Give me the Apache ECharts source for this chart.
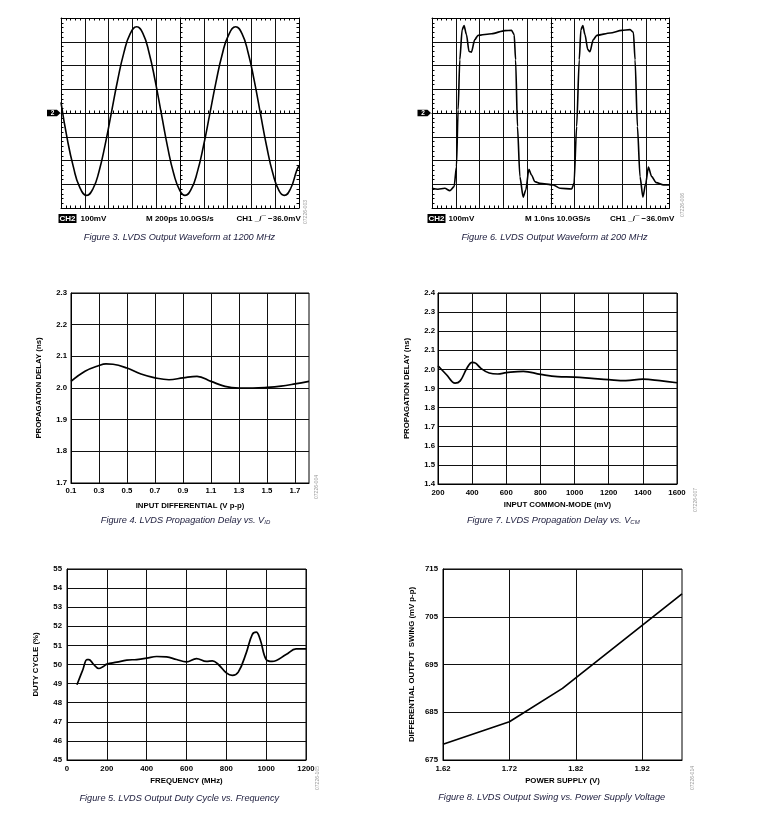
<!DOCTYPE html>
<html><head><meta charset="utf-8">
<script src="https://cdn.jsdelivr.net/npm/echarts@6/dist/echarts.min.js"></script>
<style>html,body{margin:0;padding:0;background:#fff}#c{width:762px;height:816px}</style>
</head><body><div id="c"></div>
<script>
// ---------- Figure 3: LVDS output waveform at 1200 MHz (time ps, mV) ----------
const fig3Time = [0,52,104,156,216,268,320,372,424,476,528,580,636,688,740,792,844,896,948,1000,1042,1094,1146,1198,1250,1302,1354,1406,1468,1520,1572,1624,1676,1728,1780,1832,1876,1928,1980,2000];
const fig3Volt = [45,-108,-227,-311,-347,-320,-245,-131,3,138,253,332,363,335,254,134,-5,-144,-257,-328,-347,-321,-248,-137,-5,129,245,326,363,335,255,136,-3,-140,-254,-327,-347,-320,-243,-222];

// ---------- Figure 6: LVDS output waveform at 200 MHz (time ns, mV) ----------
const fig6Time = [0,0.25,0.54,0.75,0.93,1.03,1.10,1.17,1.27,1.35,1.45,1.56,1.66,1.80,1.94,2.51,3.07,3.35,3.46,3.52,3.60,3.70,3.84,3.95,4.08,4.19,4.33,4.54,5.11,5.39,5.88,5.98,6.09,6.20,6.27,6.35,6.44,6.56,6.65,6.79,6.94,7.50,7.99,8.34,8.48,8.55,8.65,8.76,8.88,9.00,9.11,9.25,9.44,9.75,10];
const fig6Volt = [-317,-321,-317,-327,-310,-226,14,224,351,368,330,259,256,309,327,334,347,348,330,224,-57,-268,-354,-324,-237,-261,-289,-296,-303,-317,-320,-296,-57,224,351,368,330,267,258,309,327,337,348,351,340,224,-57,-268,-354,-296,-228,-268,-293,-303,-303];

// ---------- Figure 4: propagation delay vs input differential ----------
const fig4X = [0.1,0.2,0.3,0.35,0.4,0.5,0.6,0.7,0.8,0.9,1.0,1.1,1.2,1.3,1.4,1.5,1.6,1.7,1.8];
const fig4Y = [2.021,2.053,2.071,2.076,2.075,2.063,2.044,2.032,2.026,2.032,2.037,2.021,2.005,2.0,2.0,2.002,2.006,2.013,2.021];
const fig4XTicks = [0.1,0.3,0.5,0.7,0.9,1.1,1.3,1.5,1.7];
const fig4YTicks = [1.7,1.8,1.9,2.0,2.1,2.2,2.3];

// ---------- Figure 7: propagation delay vs input common-mode ----------
const fig7X = [200,250,300,330,370,400,420,450,500,550,600,700,800,900,1000,1100,1200,1300,1400,1500,1600];
const fig7Y = [2.019,1.972,1.928,1.94,2.007,2.037,2.033,2.007,1.981,1.976,1.983,1.99,1.974,1.962,1.96,1.953,1.946,1.941,1.949,1.941,1.93];
const fig7XTicks = [200,400,600,800,1000,1200,1400,1600];
const fig7YTicks = [1.4,1.5,1.6,1.7,1.8,1.9,2.0,2.1,2.2,2.3,2.4];

// ---------- Figure 5: duty cycle vs frequency ----------
const fig5X = [50,80,100,110,130,160,180,200,250,300,350,400,450,500,550,600,650,700,730,760,800,830,860,900,930,950,970,1000,1030,1100,1150,1200];
const fig5Y = [48.94,49.74,50.26,50.26,50.05,49.79,49.88,50.02,50.12,50.23,50.26,50.33,50.42,50.40,50.26,50.14,50.31,50.16,50.19,50.0,49.56,49.43,49.60,50.61,51.57,51.69,51.31,50.26,50.16,50.52,50.82,50.82];
const fig5XTicks = [0,200,400,600,800,1000,1200];
const fig5YTicks = [45,46,47,48,49,50,51,52,53,54,55];

// ---------- Figure 8: output swing vs power supply ----------
const fig8X = [1.62,1.72,1.80,1.90,1.98];
const fig8Y = [678.3,683.0,690.0,701.0,709.8];
const fig8XTicks = [1.62,1.72,1.82,1.92];
const fig8YTicks = [675,685,695,705,715];

const F = 'Liberation Sans';
const BLACK = '#000';
const FS = 7.8;
const zip = (a, b) => a.map((v, i) => [v, b[i]]);
const lbl = {fontFamily: F, fontWeight: 'bold', fontSize: FS, color: BLACK};
const gridLine = {show: true, lineStyle: {color: '#111', width: 1}};

const grids = [], xAxes = [], yAxes = [], series = [], graphics = [];

// ---- scope panel builder ----
function scope(rect, xMax, xInt, time, volt, smooth, mono) {
  const gA = grids.length;
  grids.push(Object.assign({}, rect, {show: false}));
  grids.push(Object.assign({}, rect, {show: false}));
  grids.push(Object.assign({}, rect, {show: false}));
  const axLine = {show: true, onZero: false, lineStyle: {color: BLACK, width: 1}};
  const minor = {show: true, splitNumber: 5, length: 2.5, lineStyle: {color: BLACK, width: 1}};
  xAxes.push({gridIndex: gA, type: 'value', min: 0, max: xMax, interval: xInt, position: 'bottom',
    axisLine: axLine, axisTick: {show: false, inside: true}, minorTick: minor,
    axisLabel: {show: false}, splitLine: gridLine});
  yAxes.push({gridIndex: gA, type: 'value', min: -400, max: 400, interval: 100, position: 'left',
    axisLine: axLine, axisTick: {show: false, inside: true}, minorTick: minor,
    axisLabel: {show: false}, splitLine: gridLine});
  xAxes.push({gridIndex: gA + 1, type: 'value', min: 0, max: xMax, interval: xInt, position: 'top',
    axisLine: axLine, axisTick: {show: false, inside: true}, minorTick: minor,
    axisLabel: {show: false}, splitLine: {show: false}});
  yAxes.push({gridIndex: gA + 1, type: 'value', min: -400, max: 400, interval: 100, position: 'right',
    axisLine: axLine, axisTick: {show: false, inside: true}, minorTick: minor,
    axisLabel: {show: false}, splitLine: {show: false}});
  xAxes.push({gridIndex: gA + 2, type: 'value', min: -xMax / 2, max: xMax / 2, interval: xInt,
    axisLine: {show: true, onZero: true, lineStyle: {color: BLACK, width: 1}}, axisTick: {show: false, inside: true},
    minorTick: minor, axisLabel: {show: false}, splitLine: {show: false}});
  yAxes.push({gridIndex: gA + 2, type: 'value', min: -400, max: 400, interval: 100,
    axisLine: {show: true, onZero: true, lineStyle: {color: BLACK, width: 1}}, axisTick: {show: false, inside: true},
    minorTick: minor, axisLabel: {show: false}, splitLine: {show: false}});
  const s = {type: 'line', xAxisIndex: xAxes.length - 3, yAxisIndex: yAxes.length - 3,
    data: zip(time, volt), showSymbol: false, smooth: smooth,
    lineStyle: {color: BLACK, width: 1.6}, animation: false, z: 5};
  if (mono) s.smoothMonotone = 'x';
  series.push(s);
}

// ---- line chart builder ----
function chart(rect, xr, yr, xTicks, yTicks, xFmt, yFmt, xName, yName, gaps, xs, ys, smooth) {
  const g = grids.length;
  grids.push(Object.assign({}, rect, {show: true, borderColor: BLACK, borderWidth: 1}));
  xAxes.push({gridIndex: g, type: 'value', min: xr[0], max: xr[1], position: 'bottom',
    axisLine: {show: true, onZero: false, lineStyle: {color: BLACK, width: 1}},
    axisTick: {show: false, customValues: xTicks},
    axisLabel: Object.assign({}, lbl, {customValues: xTicks, margin: gaps[0], formatter: xFmt}),
    splitLine: gridLine,
    name: xName, nameLocation: 'middle', nameGap: gaps[1],
    nameTextStyle: {fontFamily: F, fontWeight: 'bold', fontSize: FS, color: BLACK}});
  yAxes.push({gridIndex: g, type: 'value', min: yr[0], max: yr[1], position: 'left',
    axisLine: {show: true, onZero: false, lineStyle: {color: BLACK, width: 1}},
    axisTick: {show: false, customValues: yTicks},
    axisLabel: Object.assign({}, lbl, {customValues: yTicks, margin: gaps[2], formatter: yFmt}),
    splitLine: gridLine,
    name: yName, nameLocation: 'middle', nameGap: gaps[3],
    nameTextStyle: {fontFamily: F, fontWeight: 'bold', fontSize: FS, color: BLACK}});
  series.push({type: 'line', xAxisIndex: xAxes.length - 1, yAxisIndex: yAxes.length - 1,
    data: zip(xs, ys), showSymbol: false, smooth: smooth,
    lineStyle: {color: BLACK, width: 1.7}, animation: false, z: 5});
}

scope({left: 61, top: 18, width: 238, height: 190}, 2000, 200, fig3Time, fig3Volt, 0.5, false);
scope({left: 432, top: 18, width: 237.5, height: 190}, 10, 1, fig6Time, fig6Volt, 0.25, true);

const f1 = v => v.toFixed(1), f2 = v => v.toFixed(2), f0 = v => String(v);
chart({left: 71, top: 293, width: 238, height: 190}, [0.1, 1.8], [1.7, 2.3], fig4XTicks, fig4YTicks, f1, f1,
  'INPUT DIFFERENTIAL (V p-p)', 'PROPAGATION DELAY (ns)', [4, 18.5, 4, 28], fig4X, fig4Y, 0.4);
chart({left: 438, top: 293, width: 239, height: 191}, [200, 1600], [1.4, 2.4], fig7XTicks, fig7YTicks, f0, f1,
  'INPUT COMMON-MODE (mV)', 'PROPAGATION DELAY (ns)', [5, 17, 3, 27], fig7X, fig7Y, 0.4);
chart({left: 67, top: 569, width: 239, height: 191}, [0, 1200], [45, 55], fig5XTicks, fig5YTicks, f0, f0,
  'FREQUENCY (MHz)', 'DUTY CYCLE (%)', [5, 17, 5, 27.5], fig5X, fig5Y, 0.4);
chart({left: 443, top: 569, width: 239, height: 191}, [1.62, 1.98], [675, 715], fig8XTicks, fig8YTicks, f2, f0,
  'POWER SUPPLY (V)', 'DIFFERENTIAL OUTPUT  SWING (mV p-p)', [5, 16.5, 5, 27], fig8X, fig8Y, false);

// ---- decorations ----
function marker(x, y) {
  graphics.push({type: 'polygon', shape: {points: [[x, y - 3.3], [x + 10, y - 3.3], [x + 13.5, y], [x + 10, y + 3.3], [x, y + 3.3]]},
    style: {fill: BLACK}});
  graphics.push({type: 'text', x: x + 5.5, y: y, style: {text: '2', fill: '#fff', font: 'bold 6.5px ' + F,
    textAlign: 'center', textVerticalAlign: 'middle'}});
}
marker(47, 113);
marker(417.5, 113);

function scopeText(x, y, text) {
  graphics.push({type: 'text', x: x, y: y, style: {text: text, fill: BLACK, font: 'bold 8px ' + F,
    textAlign: 'left', textVerticalAlign: 'middle',
    rich: {b: {backgroundColor: BLACK, fill: '#fff', fontWeight: 'bold', fontSize: 8, fontFamily: F, padding: [1, 1, 0, 1]}}}});
}
scopeText(58.5, 218.5, '{b|CH2}');
scopeText(80.5, 218.5, '100mV');
scopeText(146, 218.5, 'M 200ps 10.0GS/s');
scopeText(236.5, 218.5, 'CH1 _/\u00AF \u221236.0mV');
scopeText(427.5, 218.5, '{b|CH2}');
scopeText(448.5, 218.5, '100mV');
scopeText(525, 218.5, 'M 1.0ns 10.0GS/s');
scopeText(610, 218.5, 'CH1 _/\u00AF \u221236.0mV');

const CAP = '#1c1c3c';
function caption(x, y, text) {
  graphics.push({type: 'text', x: x, y: y, style: {text: text, fill: CAP,
    font: 'italic 9.2px ' + F, textAlign: 'center', textVerticalAlign: 'middle',
    rich: {n: {fontStyle: 'italic', fontSize: 9.2, fontFamily: F, fill: CAP, lineHeight: 12},
           s: {fontStyle: 'italic', fontSize: 6, fontFamily: F, fill: CAP, lineHeight: 12, padding: [4, 0, 0, 0]}}}});
}
caption(179.5, 237.5, '{n|Figure 3. LVDS Output Waveform at 1200 MHz}');
caption(554.5, 237.5, '{n|Figure 6. LVDS Output Waveform at 200 MHz}');
caption(185.5, 520.7, '{n|Figure 4. LVDS Propagation Delay vs. V}{s|ID}');
caption(553.3, 520.7, '{n|Figure 7. LVDS Propagation Delay vs. V}{s|CM}');
caption(179.3, 798.7, '{n|Figure 5. LVDS Output Duty Cycle vs. Frequency}');
caption(551.7, 797.7, '{n|Figure 8. LVDS Output Swing vs. Power Supply Voltage}');

function figId(x, y, text) {
  graphics.push({type: 'text', x: x, y: y, rotation: Math.PI / 2, style: {text: text, fill: '#9a9a9a',
    font: '5px ' + F, textAlign: 'center', textVerticalAlign: 'middle'}});
}
figId(306, 212, '07226-003');
figId(683, 205, '07226-006');
figId(317, 487, '07226-004');
figId(696, 500, '07226-007');
figId(318, 778, '07226-105');
figId(693, 778, '07226-014');

const chartEl = echarts.init(document.getElementById('c'), null, {renderer: 'canvas'});
chartEl.setOption({
  animation: false,
  backgroundColor: '#fff',
  grid: grids, xAxis: xAxes, yAxis: yAxes, series: series,
  graphic: {elements: graphics}
});
</script></body></html>
